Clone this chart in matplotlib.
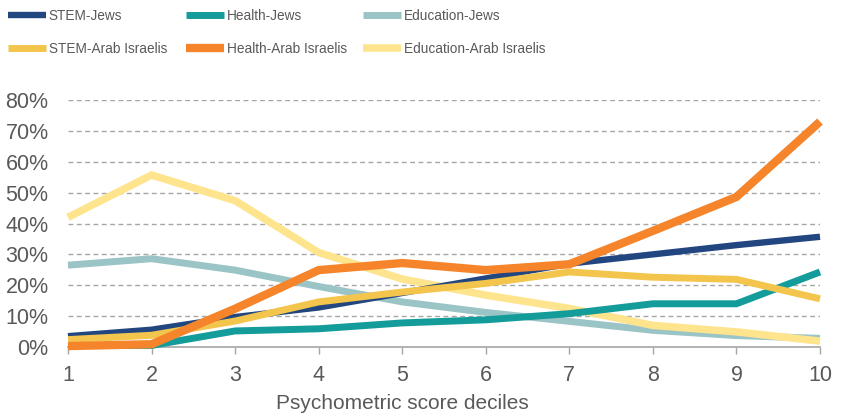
import matplotlib.pyplot as plt
from matplotlib.ticker import FuncFormatter

plt.rcParams['font.family'] = ['Liberation Sans', 'DejaVu Sans']

deciles = [1, 2, 3, 4, 5, 6, 7, 8, 9, 10]

# shares in percent
stem_jews = [3.5, 5.6, 9.7, 12.8, 17.5, 22.2, 27.0, 30.0, 33.0, 35.7]
health_jews = [0.5, 0.5, 5.2, 5.9, 7.8, 8.8, 10.8, 14.0, 14.0, 24.3]
edu_jews = [26.5, 28.6, 24.9, 19.6, 14.6, 11.2, 8.3, 5.4, 3.7, 2.8]
stem_arab = [2.4, 3.8, 8.4, 14.6, 17.8, 20.6, 24.3, 22.6, 21.9, 15.6]
health_arab = [0.3, 0.9, 12.4, 24.9, 27.2, 24.9, 26.8, 37.6, 48.6, 73.0]
edu_arab = [42.0, 55.7, 47.4, 30.6, 22.0, 16.8, 12.5, 7.0, 4.9, 1.9]

series = [
    ("STEM-Jews", stem_jews, "#224780", 4.6),
    ("Health-Jews", health_jews, "#149C9B", 5.0),
    ("Education-Jews", edu_jews, "#9BC4C6", 5.0),
    ("STEM-Arab Israelis", stem_arab, "#F3C54D", 5.0),
    ("Health-Arab Israelis", health_arab, "#F5842A", 6.0),
    ("Education-Arab Israelis", edu_arab, "#FEE48D", 5.4),
]
draw_order = [2, 5, 0, 1, 3, 4]

fig = plt.figure(figsize=(8.49, 4.16), dpi=100)
ax = fig.add_axes([68 / 849, 1 - 347 / 416, (820 - 68) / 849, (347 - 100) / 416])

lines = {}
for i in draw_order:
    name, vals, col, lw = series[i]
    ln, = ax.plot(deciles, vals, color=col, lw=lw, solid_joinstyle='miter',
                  solid_capstyle='butt', clip_on=False, zorder=3 + draw_order.index(i))
    lines[i] = ln

ax.set_xlim(1, 10)
ax.set_ylim(0, 80)
ax.set_xticks(deciles)
ax.set_yticks(range(0, 81, 10))
ax.yaxis.set_major_formatter(FuncFormatter(lambda v, p: f"{int(v)}%"))
for y in range(10, 81, 10):
    ax.axhline(y, color="#A6A6A6", lw=1.0, ls=(0, (3.5, 2.5)), zorder=1)

for s in ["top", "right", "left"]:
    ax.spines[s].set_visible(False)
ax.spines["bottom"].set_color("#A6A6A6")
ax.spines["bottom"].set_linewidth(1.2)
ax.tick_params(axis="y", length=0, labelsize=15.5, colors="#595959", pad=14)
ax.tick_params(axis="x", length=5, width=1.0, color="#A6A6A6", labelsize=15.5,
               labelcolor="#595959", pad=8)
ax.set_xlabel("Psychometric score deciles", fontsize=15, color="#595959")
ax.xaxis.set_label_coords((402 - 68) / 752, -47 / 247)

# three legend columns, evenly spaced like the original
col_x = [8, 186, 363]
for c in range(3):
    idx = [c, c + 3]
    leg = fig.legend([lines[k] for k in idx], [series[k][0] for k in idx],
                     loc="upper left", bbox_to_anchor=(col_x[c] / 849, 1 - 9 / 416),
                     frameon=False, handlelength=2.8, handletextpad=0.2,
                     labelspacing=1.4, borderpad=0, borderaxespad=0,
                     fontsize=9.8, labelcolor="#595959")

fig.savefig("out.png", dpi=100)
